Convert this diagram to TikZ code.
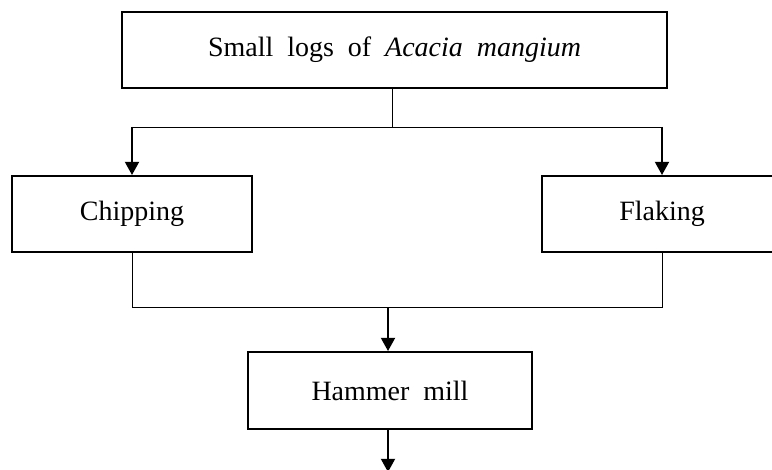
\documentclass[tikz,border=0pt]{standalone}
\usepackage{fontspec}
\setmainfont{Liberation Serif}
\usetikzlibrary{positioning, arrows.meta, calc}

\begin{document}
\begin{tikzpicture}[
		stage/.style={draw, rectangle, line width=1.4pt, text centered, font=\fontsize{19.9}{24}\selectfont},
		link/.style={line width=0.7pt},
		flow/.style={line width=1.4pt, -{Triangle[width=0.35cm, length=0.33cm]}}]
		\useasboundingbox (0,0) rectangle (19.3,-11.75);
		
		\node (logs) at (9.8625,-1.25) [stage, minimum width=13.625cm, minimum height=1.9cm]{Small\ \ logs\ \ of\ \ \textit{Acacia\ \ mangium}};
		
		\node (chip) at (3.3,-5.35) [stage, minimum width=6cm, minimum height=1.9cm]{Chipping};
		
		\node (flake) at (16.55,-5.35) [stage, minimum width=6cm, minimum height=1.9cm]{Flaking};
		
		\node (mill) at (9.75,-9.7625) [stage, minimum width=7.1cm, minimum height=1.925cm]{Hammer\ \ mill};
		
		\coordinate (split) at (9.8,-3.175);
		\coordinate (merge) at (9.7,-7.675);
		\coordinate (out) at (9.7,-11.8);
		
		%Links
		\draw[link] (logs.south -| split) -- (split);
		\draw[link] (chip.north |- split) -- (flake.north |- split);
		\draw[flow] (chip.north |- split) -- (chip.north);
		\draw[flow] (flake.north |- split) -- (flake.north);
		\draw[link] (chip.south) -- (chip.south |- merge) -- (flake.south |- merge) -- (flake.south);
		\draw[flow] (merge) -- (merge |- mill.north);
		\draw[flow] (merge |- mill.south) -- (out);
		
\end{tikzpicture}
\end{document}
